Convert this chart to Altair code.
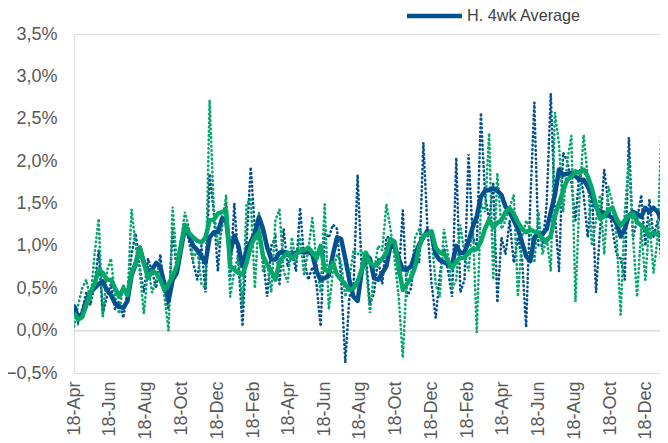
import altair as alt
import pandas as pd
import datetime as dt

start = dt.datetime(2016, 4, 18)

h_weekly = [0.30, 0.10, 0.25, 0.45, 0.30, 0.55, 0.95, 0.20, 0.40, 0.55,
            0.25, 0.35, 0.15, 0.45, 0.90, 1.15, 0.75, 0.45, 0.85, 0.70,
            0.50, 0.90, 0.45, 0.25, 1.20, 0.70, 1.05, 1.25, 1.05, 0.80,
            0.60, 1.00, 0.45, 1.85, 1.40, 0.70, 1.35, 1.50, 0.60, 1.50,
            0.80, 0.05, 1.05, 1.93, 1.20, 1.30, 0.85, 0.40, 1.00, 1.10,
            0.55, 1.20, 0.75, 0.95, 0.70, 1.45, 0.85, 0.60, 0.75, 0.55,
            0.05, 1.15, 1.10, 1.25, 1.20, 0.60, -0.38, 0.40, 0.50, 1.84,
            0.70, 0.90, 0.30, 0.45, 0.85, 0.55, 1.10, 1.10, 0.95, 0.65,
            1.42, 0.40, 0.50, 0.95, 0.80, 2.22, 1.20, 0.55, 0.15, 0.65,
            1.00, 0.70, 0.40, 2.04, 0.45, 0.60, 2.08, 1.10, 1.00, 2.57,
            1.60, 1.30, 1.75, 0.33, 1.10, 0.90, 1.30, 0.80, 1.10, 0.85,
            0.04, 1.50, 2.69, 1.00, 1.00, 1.50, 2.80, 1.40, 0.70, 2.10,
            2.00, 1.75, 1.30, 1.90, 1.60, 1.10, 1.70, 0.45, 1.20, 1.90,
            1.50, 1.20, 0.90, 0.85, 0.60, 2.28, 1.10, 1.30, 1.60, 1.00,
            1.55, 1.10, 1.30, 0.76, 1.15]

core_weekly = [0.05, 0.30, 0.50, 0.60, 0.35, 0.90, 1.32, 0.15, 0.70, 0.85,
               0.40, 0.20, 0.55, 0.35, 1.43, 1.00, 0.70, 0.20, 0.75, 0.45,
               0.60, 0.80, 0.40, 0.00, 1.46, 0.80, 1.05, 1.40, 1.20, 0.85,
               0.95, 0.55, 0.50, 2.72, 1.45, 1.00, 1.20, 1.60, 0.40, 0.70,
               0.90, 0.30, 1.50, 1.55, 0.50, 1.40, 0.70, 0.80, 0.45, 1.30,
               1.43, 0.70, 0.57, 1.10, 0.80, 1.10, 0.65, 0.95, 1.33, 0.80,
               0.45, 1.49, 0.25, 0.70, 0.90, 0.80, 0.40, 0.60, 0.95, 0.90,
               0.95, 0.80, 0.21, 0.70, 1.00, 0.95, 1.49, 1.20, 0.85, 0.40,
               -0.32, 0.70, 0.65, 1.10, 1.20, 1.10, 1.15, 1.10, 0.55, 0.40,
               1.20, 0.90, 0.50, 0.60, 1.25, 0.90, 0.70, 1.30, -0.02, 1.50,
               1.40, 2.33, 0.60, 1.86, 1.20, 1.30, 1.45, 1.60, 0.40, 1.10,
               1.30, 1.20, 0.80, 1.40, 0.90, 1.10, 0.70, 2.57, 2.20, 1.40,
               2.00, 2.30, 0.34, 1.60, 2.31, 1.80, 1.00, 1.30, 1.60, 0.90,
               1.70, 1.50, 1.10, 0.19, 1.40, 2.00, 1.10, 0.40, 1.20, 0.60,
               1.30, 0.68, 1.10, 2.49, 1.80]

h_4wk = [0.30, 0.15, 0.20, 0.35, 0.45, 0.50, 0.55, 0.58, 0.48, 0.42,
         0.32, 0.28, 0.27, 0.35, 0.65, 0.78, 0.98, 0.80, 0.70, 0.72,
         0.80, 0.75, 0.55, 0.35, 0.60, 0.68, 0.95, 1.22, 1.12, 1.00,
         0.95, 0.88, 0.80, 1.10, 1.16, 1.16, 1.32, 1.30, 0.92, 1.12,
         1.00, 0.76, 0.95, 1.05, 1.15, 1.34, 1.20, 0.98, 0.84, 0.84,
         0.92, 0.93, 0.90, 0.87, 0.92, 0.93, 0.92, 0.93, 0.90, 0.70,
         0.60, 0.62, 0.65, 0.90, 1.10, 1.08, 0.85, 0.60, 0.40, 0.35,
         0.70, 0.90, 0.85, 0.62, 0.60, 0.68, 0.76, 1.00, 0.99, 0.85,
         0.72, 0.72, 0.76, 0.90, 1.02, 1.10, 1.18, 1.14, 0.90, 0.83,
         0.81, 0.78, 0.78, 1.00, 0.92, 0.92, 1.05, 1.22, 1.35, 1.58,
         1.65, 1.66, 1.68, 1.65, 1.60, 1.46, 1.40, 1.30, 1.20, 1.04,
         0.88, 0.82, 1.10, 1.15, 1.14, 1.20, 1.40, 1.60, 1.90, 1.84,
         1.85, 1.86, 1.82, 1.78, 1.78, 1.70, 1.60, 1.46, 1.40, 1.39,
         1.36, 1.33, 1.27, 1.11, 1.20, 1.36, 1.40, 1.38, 1.34, 1.45,
         1.40, 1.45, 1.40, 1.30, 1.24]

core_4wk = [0.21, 0.13, 0.16, 0.30, 0.45, 0.55, 0.72, 0.68, 0.60, 0.60,
            0.50, 0.40, 0.50, 0.42, 0.68, 0.80, 0.98, 0.80, 0.62, 0.70,
            0.68, 0.60, 0.48, 0.55, 0.64, 0.76, 1.00, 1.25, 1.15, 1.10,
            1.06, 1.04, 1.10, 1.30, 1.31, 1.38, 1.40, 1.42, 0.76, 0.72,
            0.68, 0.66, 0.80, 1.00, 1.10, 1.16, 0.88, 0.78, 0.70, 0.60,
            0.82, 0.87, 0.92, 0.85, 0.90, 0.94, 0.95, 0.98, 0.92, 0.85,
            1.00, 0.72, 0.70, 0.80, 0.66, 0.60, 0.55, 0.48, 0.50, 0.58,
            0.72, 0.92, 0.80, 0.76, 0.80, 0.85, 0.92, 1.08, 1.05, 0.75,
            0.48, 0.55, 0.62, 0.75, 0.99, 1.12, 1.14, 1.17, 0.98, 0.92,
            0.92, 0.82, 0.74, 0.82, 0.86, 0.86, 0.92, 0.96, 0.96, 1.05,
            1.20, 1.31, 1.22, 1.27, 1.30, 1.40, 1.44, 1.38, 1.28, 1.20,
            1.16, 1.19, 1.17, 1.15, 1.08, 1.06, 1.12, 1.35, 1.50, 1.65,
            1.78, 1.82, 1.88, 1.86, 1.90, 1.82, 1.68, 1.48, 1.32, 1.35,
            1.42, 1.45, 1.32, 1.24, 1.30, 1.36, 1.38, 1.28, 1.24, 1.20,
            1.12, 1.16, 1.13, 1.16, 1.08]

y_ticks = [-0.5, 0.0, 0.5, 1.0, 1.5, 2.0, 2.5, 3.0, 3.5]

dates = [(start + dt.timedelta(days=7 * i)).strftime("%Y-%m-%dT00:00:00")
         for i in range(len(h_4wk))]

tick_dates = []
y, m = 2016, 4
while (y, m) <= (2018, 12):
    tick_dates.append(alt.DateTime(year=y, month=m, date=18))
    m += 2
    if m > 12:
        m -= 12
        y += 1

BLUE = "#03508f"
GREEN = "#05a66a"
FONT = "Liberation Sans"

df = pd.DataFrame({
    "date": dates * 4,
    "value": h_weekly + core_weekly + h_4wk + core_4wk,
    "series": (["H. weekly"] * len(dates) + ["Core weekly"] * len(dates)
               + ["H. 4wk Average"] * len(dates) + ["Core 4wk Average"] * len(dates)),
})

x_enc = alt.X(
    "date:T",
    scale=alt.Scale(domain=[alt.DateTime(year=2016, month=4, date=18),
                            alt.DateTime(year=2019, month=1, date=11)]),
    axis=alt.Axis(
        values=tick_dates, labelExpr="timeFormat(datum.value, '%d-%b')",
        labelAngle=270, labelFontSize=18, labelFont=FONT, labelColor="#595959",
        domain=False, ticks=False, grid=False, title=None, labelPadding=8,
        labelOverlap=False, labelBound=False, labelFlush=False,
    ),
)
y_enc = alt.Y(
    "value:Q",
    scale=alt.Scale(domain=[-0.5, 3.5], nice=False, zero=False),
    axis=alt.Axis(
        values=y_ticks,
        labelExpr="replace(format(datum.value, '.1f'), '.', ',') + '%'",
        labelFontSize=18, labelFont=FONT, labelColor="#595959",
        domain=False, ticks=False, grid=False, title=None, labelPadding=17,
    ),
)

base = alt.Chart(df)

zero = alt.Chart(pd.DataFrame({"v": [0.0]})).mark_rule(
    color="#d9d9d9", strokeWidth=1.5
).encode(y=alt.Y("v:Q", scale=alt.Scale(domain=[-0.5, 3.5])))

def dotted(name, color):
    return base.transform_filter(alt.datum.series == name).mark_line(
        color=color, strokeWidth=2.6, strokeDash=[0.5, 3.8], strokeCap="round",
        clip=True
    ).encode(x=x_enc, y=y_enc)

def solid(name, color):
    return base.transform_filter(alt.datum.series == name).mark_line(
        color=color, strokeWidth=4.5, strokeJoin="round", clip=True
    ).encode(x=x_enc, y=y_enc)

one = pd.DataFrame({"label": ["H. 4wk Average"]})
leg_line = alt.Chart(one).mark_rule(color=BLUE, strokeWidth=4.5).encode(
    x=alt.value(333), x2=alt.value(388), y=alt.value(-18.0)
)
leg_text = alt.Chart(one).mark_text(
    align="left", baseline="middle", fontSize=16.2, font=FONT, color="#404040"
).encode(x=alt.value(393), y=alt.value(-17.6), text="label:N")

chart = alt.layer(
    zero,
    dotted("H. weekly", BLUE),
    dotted("Core weekly", GREEN),
    solid("H. 4wk Average", BLUE),
    solid("Core 4wk Average", GREEN),
    leg_line,
    leg_text,
).properties(
    width=586, height=339,
    autosize=alt.AutoSizeParams(type="none"),
    padding={"left": 66, "top": 26, "right": 0, "bottom": 66},
).configure_view(stroke=None).configure(background="white")

chart.save("out.html", embed_options={"renderer": "svg", "actions": False})
